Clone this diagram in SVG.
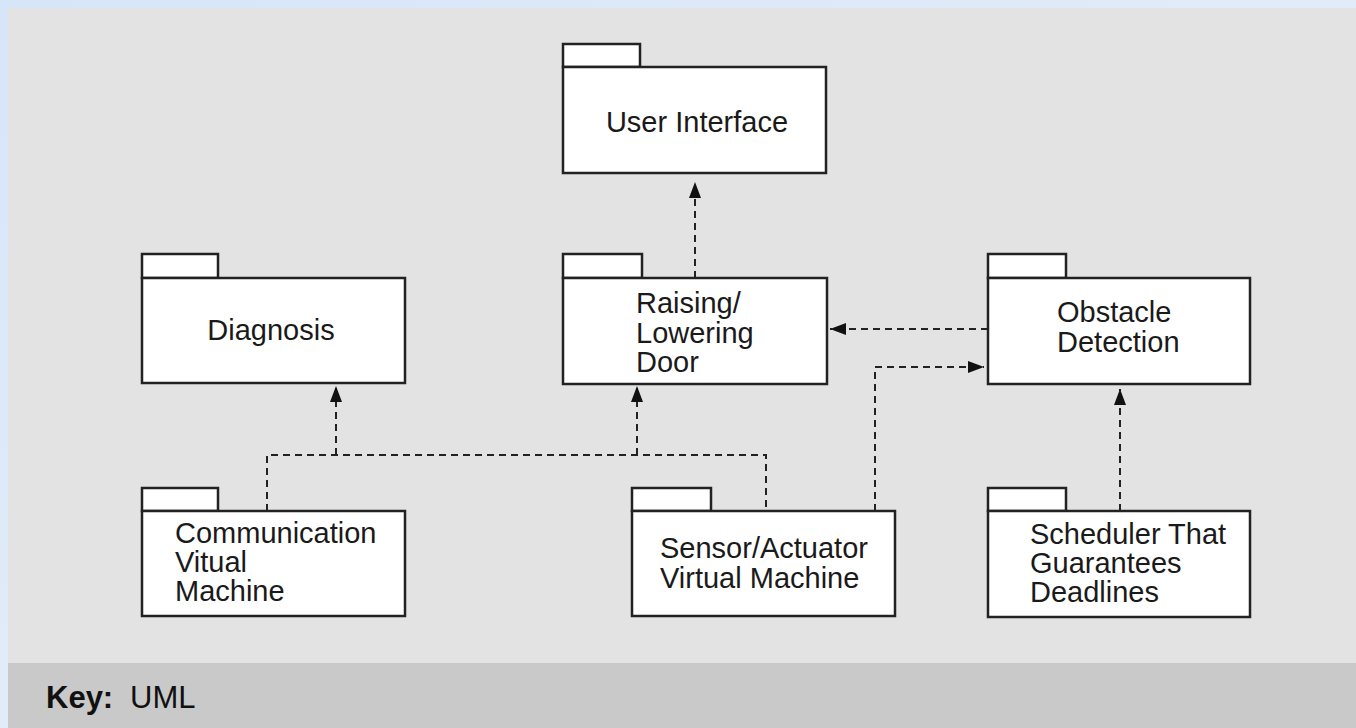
<svg xmlns="http://www.w3.org/2000/svg" width="1356" height="728" viewBox="0 0 1356 728">
<defs>
<linearGradient id="bg" x1="0" y1="0" x2="1" y2="1">
<stop offset="0" stop-color="#d6e6f8"/>
<stop offset="0.5" stop-color="#e2ebf9"/>
<stop offset="1" stop-color="#eef3fb"/>
</linearGradient>
<marker id="ah" viewBox="0 0 16 12" refX="16" refY="6" markerWidth="16" markerHeight="12" markerUnits="userSpaceOnUse" orient="auto">
<path d="M0,0 L16,6 L0,12 Z" fill="#111"/>
</marker>
<style>
.box{fill:#fff;stroke:#222;stroke-width:2.5}
.lbl{font-family:"Liberation Sans",Arial,Helvetica,sans-serif;font-size:29px;fill:#1a1a1a}
.dep{fill:none;stroke:#222;stroke-width:2;stroke-dasharray:7 5}
.key{font-family:"Liberation Sans",Arial,Helvetica,sans-serif;font-size:31px;fill:#111}
</style>
</defs>
<rect x="0" y="0" width="1356" height="728" fill="url(#bg)"/>
<rect x="8" y="8" width="1348" height="655" fill="#e3e3e3"/>
<rect x="8" y="663" width="1348" height="65" fill="#c9c9c9"/>
<text class="key" x="46" y="708" font-weight="bold">Key:</text>
<text class="key" x="130" y="708">UML</text>

<g id="connectors">
<path class="dep" d="M695,278 V182" marker-end="url(#ah)"/>
<path class="dep" d="M988,329 H830" marker-end="url(#ah)"/>
<path class="dep" d="M875,511 V367 H984" marker-end="url(#ah)"/>
<path class="dep" d="M1120,511 V389" marker-end="url(#ah)"/>
<path class="dep" d="M267,511 V455 H766 V511"/>
<path class="dep" d="M336,455 V386" marker-end="url(#ah)"/>
<path class="dep" d="M637,455 V386" marker-end="url(#ah)"/>
</g>

<g id="user-interface">
<rect class="box" x="563" y="44" width="77" height="23"/>
<rect class="box" x="563" y="67" width="263" height="106"/>
<text class="lbl" x="697" y="132" text-anchor="middle">User Interface</text>
</g>
<g id="diagnosis">
<rect class="box" x="142" y="254" width="76" height="24"/>
<rect class="box" x="142" y="278" width="263" height="105"/>
<text class="lbl" x="271" y="340" text-anchor="middle">Diagnosis</text>
</g>
<g id="raising-lowering-door">
<rect class="box" x="563" y="254" width="79" height="24"/>
<rect class="box" x="563" y="278" width="264" height="106"/>
<text class="lbl" x="636" y="313">Raising/</text>
<text class="lbl" x="636" y="343">Lowering</text>
<text class="lbl" x="636" y="372">Door</text>
</g>
<g id="obstacle-detection">
<rect class="box" x="988" y="254" width="78" height="24"/>
<rect class="box" x="988" y="278" width="262" height="106"/>
<text class="lbl" x="1057" y="322">Obstacle</text>
<text class="lbl" x="1057" y="352">Detection</text>
</g>
<g id="communication-vm">
<rect class="box" x="142" y="488" width="76" height="23"/>
<rect class="box" x="142" y="511" width="263" height="105"/>
<text class="lbl" x="175" y="543">Communication</text>
<text class="lbl" x="175" y="572">Vitual</text>
<text class="lbl" x="175" y="601">Machine</text>
</g>
<g id="sensor-actuator-vm">
<rect class="box" x="632" y="488" width="79" height="23"/>
<rect class="box" x="632" y="511" width="263" height="105"/>
<text class="lbl" x="660" y="558">Sensor/Actuator</text>
<text class="lbl" x="660" y="588">Virtual Machine</text>
</g>
<g id="scheduler">
<rect class="box" x="988" y="488" width="78" height="23"/>
<rect class="box" x="988" y="511" width="262" height="106"/>
<text class="lbl" x="1030" y="544">Scheduler That</text>
<text class="lbl" x="1030" y="573">Guarantees</text>
<text class="lbl" x="1030" y="602">Deadlines</text>
</g>
</svg>
